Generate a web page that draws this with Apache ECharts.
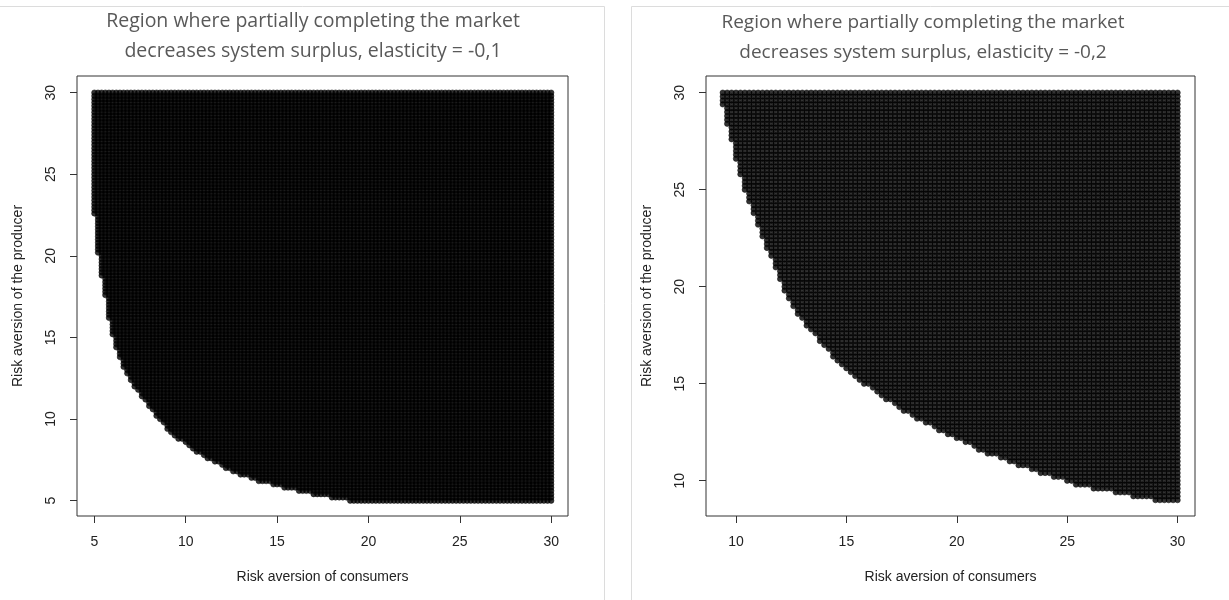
<!DOCTYPE html>
<html>
<head>
<meta charset="UTF-8">
<title>Region where partially completing the market decreases system surplus</title>
<script src="https://cdn.jsdelivr.net/npm/echarts@6/dist/echarts.min.js"></script>
<style>
  html, body { margin: 0; padding: 0; background: #fff; }
  #container { width: 1229px; height: 600px; }
</style>
</head>
<body>
<div id="container"></div>
<script type="text/javascript">
    // grid of risk-aversion values that was evaluated (seq(5, 30, by = 0.2))
    var gridFrom = 5, gridTo = 30, gridStep = 0.2;

    // boundary of the region (consumers, producer)
    // elasticity = -0,1
    var edgeX1 = [4.9, 4.95, 5.09, 5.18, 5.64, 5.82, 6.09, 6.55, 7.1, 7.73, 8.55, 9.46, 10.74, 12.38, 14.2, 16.02, 17.84, 19.3];
    var edgeY1 = [30.1, 23.1, 21.4, 20.2, 17.27, 16.04, 14.6, 13.2, 12.16, 11.13, 9.9, 8.88, 7.86, 6.84, 6.12, 5.61, 5.2, 4.9];
    // elasticity = -0,2
    var edgeX2 = [9.3, 9.43, 9.73, 10.18, 10.63, 11.24, 11.84, 12.37, 12.9, 13.65, 14.4, 15.16, 16.2, 18.02, 19.53, 21.04, 22.55, 24.06, 25.57, 27.07, 28.58, 29.49, 30.1];
    var edgeY2 = [30.1, 29.07, 27.7, 25.8, 24.1, 22.37, 20.8, 19.28, 18.4, 17.39, 16.36, 15.5, 14.64, 13.26, 12.41, 11.55, 10.86, 10.26, 9.74, 9.4, 9.06, 8.9, 8.85];

    var xTicks1 = [5, 10, 15, 20, 25, 30];
    var yTicks1 = [5, 10, 15, 20, 25, 30];
    var xTicks2 = [10, 15, 20, 25, 30];
    var yTicks2 = [10, 15, 20, 25, 30];

    var titles = [
        'Region where partially completing the market\ndecreases system surplus, elasticity = -0,1',
        'Region where partially completing the market\ndecreases system surplus, elasticity = -0,2'
    ];

    // polygon = boundary + upper right corner of the evaluated grid
    function makePolygon(xs, ys) {
        var poly = [];
        for (var i = 0; i < xs.length; i++) poly.push([xs[i], ys[i]]);
        poly.push([30.1, ys[ys.length - 1]]);
        poly.push([30.1, 30.1]);
        return poly;
    }

    function inside(p, poly) {
        var x = p[0], y = p[1], c = false;
        for (var i = 0, j = poly.length - 1; i < poly.length; j = i++) {
            var xi = poly[i][0], yi = poly[i][1], xj = poly[j][0], yj = poly[j][1];
            if (((yi > y) !== (yj > y)) && (x < (xj - xi) * (y - yi) / (yj - yi) + xi)) c = !c;
        }
        return c;
    }

    function regionPoints(xs, ys) {
        var poly = makePolygon(xs, ys);
        var n = Math.round((gridTo - gridFrom) / gridStep);
        var pts = [];
        for (var i = 0; i <= n; i++) {
            var cx = +(gridFrom + i * gridStep).toFixed(2);
            for (var k = 0; k <= n; k++) {
                var py = +(gridFrom + k * gridStep).toFixed(2);
                if (inside([cx, py], poly)) pts.push([cx, py]);
            }
        }
        return pts;
    }

    var data1 = regionPoints(edgeX1, edgeY1);
    var data2 = regionPoints(edgeX2, edgeY2);

    var labelFont = { fontFamily: 'Liberation Sans, Arial, sans-serif', fontSize: 14, color: '#222' };

    function xAxis(idx, min, max, ticks) {
        return {
            type: 'value', gridIndex: idx, min: min, max: max,
            name: 'Risk aversion of consumers', nameLocation: 'middle', nameGap: 54,
            nameTextStyle: labelFont,
            axisLine: { show: false },
            splitLine: { show: false },
            axisTick: { show: true, customValues: ticks, length: 7, inside: false, lineStyle: { color: '#333', width: 1 } },
            axisLabel: Object.assign({ customValues: ticks, margin: 19 }, labelFont)
        };
    }
    function yAxis(idx, min, max, ticks) {
        return {
            type: 'value', gridIndex: idx, min: min, max: max,
            name: 'Risk aversion of the producer', nameLocation: 'middle', nameGap: 52,
            nameRotate: 90,
            nameTextStyle: labelFont,
            axisLine: { show: false },
            splitLine: { show: false },
            axisTick: { show: true, customValues: ticks, length: 7, inside: false, lineStyle: { color: '#333', width: 1 } },
            axisLabel: Object.assign({ customValues: ticks, margin: 19, rotate: 90 }, labelFont)
        };
    }

    // dense R-style points: black, heavy outline so the region reads as solid
    var pointStyle = { color: '#000', borderColor: '#000', borderWidth: 0.6 };

    var mychart = echarts.init(document.getElementById('container'), null, { renderer: 'canvas' });
    var option = {
        animation: false,
        backgroundColor: '#fff',
        title: [
            { text: titles[0], left: 308, top: 1, textAlign: 'center',
              textStyle: { fontFamily: 'Open Sans', fontWeight: 'normal', fontSize: 19.5, color: '#595959', lineHeight: 30 } },
            { text: titles[1], left: 918, top: 3, textAlign: 'center',
              textStyle: { fontFamily: 'Open Sans', fontWeight: 'normal', fontSize: 19, color: '#595959', lineHeight: 30 } }
        ],
        grid: [
            { left: 77, top: 76, width: 491, height: 440, show: true, borderColor: '#333', borderWidth: 1, backgroundColor: 'transparent' },
            { left: 706, top: 76, width: 489, height: 440, show: true, borderColor: '#333', borderWidth: 1, backgroundColor: 'transparent' }
        ],
        xAxis: [xAxis(0, 4.05, 30.92, xTicks1), xAxis(1, 8.64, 30.79, xTicks2)],
        yAxis: [yAxis(0, 4.06, 31.02, yTicks1), yAxis(1, 8.18, 30.86, yTicks2)],
        graphic: [
            { type: 'line', shape: { x1: 0, y1: 6.5, x2: 604.5, y2: 6.5 }, style: { stroke: '#dcdcdc', lineWidth: 1 }, silent: true },
            { type: 'line', shape: { x1: 604.5, y1: 6.5, x2: 604.5, y2: 600 }, style: { stroke: '#dcdcdc', lineWidth: 1 }, silent: true },
            { type: 'line', shape: { x1: 631.5, y1: 6.5, x2: 1229, y2: 6.5 }, style: { stroke: '#dcdcdc', lineWidth: 1 }, silent: true },
            { type: 'line', shape: { x1: 631.5, y1: 6.5, x2: 631.5, y2: 600 }, style: { stroke: '#dcdcdc', lineWidth: 1 }, silent: true }
        ],
        series: [
            { type: 'scatter', xAxisIndex: 0, yAxisIndex: 0, data: data1, symbol: 'circle', symbolSize: 5.5,
              itemStyle: pointStyle, progressive: 0, progressiveThreshold: 1e7, silent: true },
            { type: 'scatter', xAxisIndex: 1, yAxisIndex: 1, data: data2, symbol: 'circle', symbolSize: 5.5,
              itemStyle: pointStyle, progressive: 0, progressiveThreshold: 1e7, silent: true }
        ]
    };
    mychart.setOption(option);
</script>
</body>
</html>
